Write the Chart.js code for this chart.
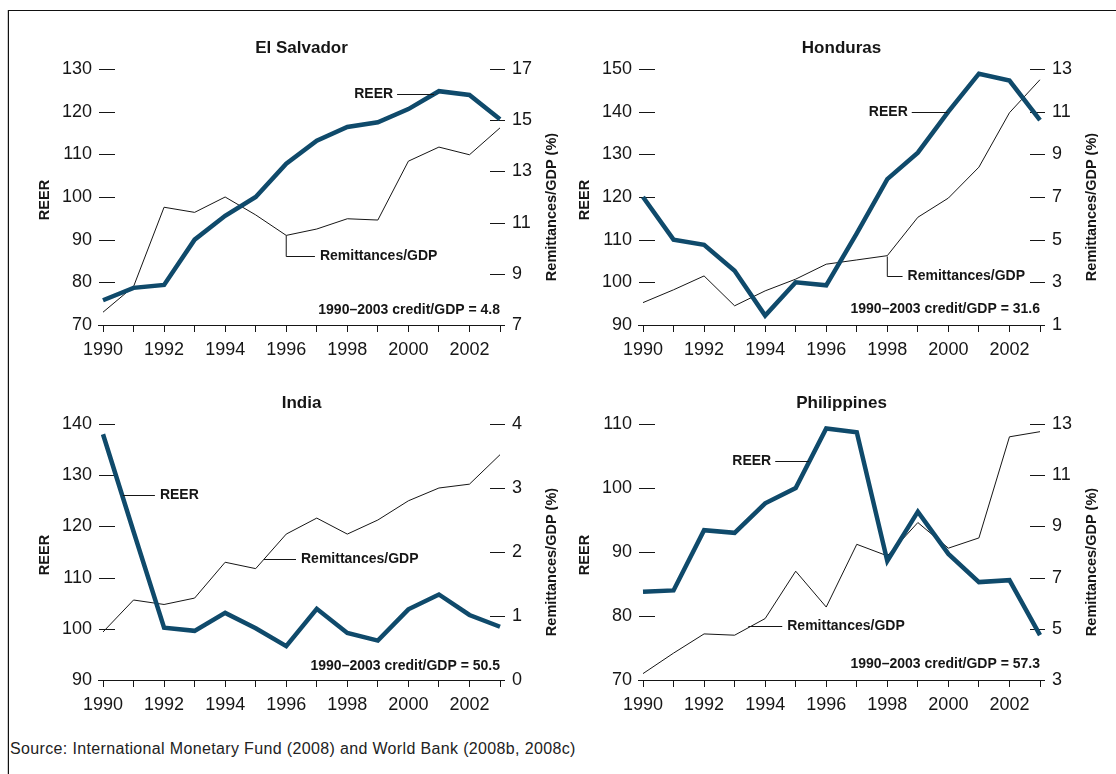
<!DOCTYPE html>
<html>
<head>
<meta charset="utf-8">
<script src="https://cdn.jsdelivr.net/npm/chart.js@4.4.1/dist/chart.umd.min.js"></script>
<style>
  html, body { margin: 0; padding: 0; background: #fff; }
  body { width: 1116px; height: 774px; position: relative; overflow: hidden; }
  .frame { position: absolute; left: 8px; top: 10px; right: 0; bottom: 0; border-top: 1.5px solid #111; border-left: 1.5px solid #111; box-shadow: -1px 0 0 #ccc; }
  canvas { position: absolute; }
  .source { position: absolute; left: 10px; top: 740px; font: 16px "Liberation Sans", Arial, sans-serif; letter-spacing: 0.35px; color: #222; }
</style>
</head>
<body>
<div class="frame"></div>
<canvas id="cElSalvador" width="558" height="355" style="left:0;top:30px"></canvas>
<canvas id="cHonduras" width="558" height="355" style="left:540px;top:30px"></canvas>
<canvas id="cIndia" width="558" height="355" style="left:0;top:385px"></canvas>
<canvas id="cPhilippines" width="558" height="355" style="left:540px;top:385px"></canvas>
<div class="source">Source: International Monetary Fund (2008) and World Bank (2008b, 2008c)</div>

<script>
// values
const years = ['1990', '1991', '1992', '1993', '1994', '1995', '1996', '1997', '1998', '1999', '2000', '2001', '2002', '2003'];

const elSalvadorReer = [75.8, 78.7, 79.4, 90.0, 95.6, 100.0, 107.8, 113.2, 116.4, 117.5, 120.6, 124.8, 123.9, 118.2];
const elSalvadorRemit = [7.5, 8.5, 11.6, 11.4, 12.0, 11.3, 10.5, 10.75, 11.15, 11.1, 13.4, 13.95, 13.65, 14.7];

const hondurasReer = [120.0, 110.0, 108.8, 102.7, 92.2, 100.0, 99.3, 111.5, 124.2, 130.4, 140.0, 148.9, 147.3, 138.0];
const hondurasRemit = [2.05, 2.65, 3.3, 1.9, 2.6, 3.15, 3.85, 4.05, 4.25, 6.05, 6.95, 8.4, 10.95, 12.5];

const indiaReer = [138.0, 119.0, 100.2, 99.6, 103.1, 100.1, 96.6, 103.9, 99.2, 97.7, 103.8, 106.7, 102.7, 100.4];
const indiaRemit = [0.75, 1.25, 1.18, 1.28, 1.84, 1.74, 2.28, 2.53, 2.28, 2.5, 2.8, 3.0, 3.06, 3.52];

const philippinesReer = [83.8, 84.0, 93.4, 93.0, 97.6, 100.0, 109.3, 108.7, 88.6, 96.3, 89.7, 85.3, 85.6, 77.0];
const philippinesRemit = [3.25, 4.05, 4.8, 4.75, 5.4, 7.25, 5.85, 8.3, 7.85, 9.15, 8.15, 8.55, 12.5, 12.7];

const REER_COLOR = '#0f4a6b';
const INK = '#161616';
const FONT = '"Liberation Sans", Arial, sans-serif';

// label leaders in data units: [year, value] on the given axis
const panels = [
    {
        canvas: 'cElSalvador', title: 'El Salvador', reer: elSalvadorReer, remit: elSalvadorRemit,
        y: [70, 130, 10], y1: [7, 17, 2], credit: ['1990–2003 credit/GDP = 4.8', 2003, 73.5],
        notes: [
            { axis: 'y', text: 'REER', at: 'start', path: [[1999.63, 124.1], [2000.84, 124.1]] },
            { axis: 'y1', text: 'Remittances/GDP', at: 'end', path: [[1996, 10.5], [1996, 9.7], [1996.94, 9.7]] },
        ],
    },
    {
        canvas: 'cHonduras', title: 'Honduras', reer: hondurasReer, remit: hondurasRemit,
        y: [90, 150, 10], y1: [1, 13, 2], credit: ['1990–2003 credit/GDP = 31.6', 2003, 93.7],
        notes: [
            { axis: 'y', text: 'REER', at: 'start', path: [[1998.8, 140], [1999.97, 140]] },
            { axis: 'y1', text: 'Remittances/GDP', at: 'end', path: [[1998, 4.25], [1998, 3.29], [1998.5, 3.29]] },
        ],
    },
    {
        canvas: 'cIndia', title: 'India', reer: indiaReer, remit: indiaRemit,
        y: [90, 140, 10], y1: [0, 4, 1], credit: ['1990–2003 credit/GDP = 50.5', 2003, 92.7],
        notes: [
            { axis: 'y', text: 'REER', at: 'end', path: [[1990.65, 126.1], [1991.7, 126.1]] },
            { axis: 'y1', text: 'Remittances/GDP', at: 'end', path: [[1995.27, 1.89], [1996.32, 1.89]] },
        ],
    },
    {
        canvas: 'cPhilippines', title: 'Philippines', reer: philippinesReer, remit: philippinesRemit,
        y: [70, 110, 10], y1: [3, 13, 2], credit: ['1990–2003 credit/GDP = 57.3', 2003, 72.4],
        notes: [
            { axis: 'y', text: 'REER', at: 'start', path: [[1994.33, 104.2], [1995.44, 104.2]] },
            { axis: 'y1', text: 'Remittances/GDP', at: 'end', path: [[1993.45, 5.12], [1994.56, 5.12]] },
        ],
    },
];

function hline(ctx, x0, x1, y) {
    ctx.beginPath();
    ctx.moveTo(x0, y);
    ctx.lineTo(x1, y);
    ctx.stroke();
}

function vtext(ctx, text, x, y) {
    ctx.save();
    ctx.translate(x, y);
    ctx.rotate(-Math.PI / 2);
    ctx.fillText(text, 0, 0);
    ctx.restore();
}

// ticks straddling the plot edges, x axis line, titles and labels
const panelDecor = {
    id: 'panelDecor',
    beforeDatasetsDraw(chart) {
        const { ctx, chartArea: a, scales } = chart;
        ctx.save();
        ctx.strokeStyle = INK;
        ctx.lineWidth = 1;
        scales.y.ticks.forEach(t => {
            const py = Math.round(scales.y.getPixelForValue(t.value)) + 0.5;
            hline(ctx, a.left - 4, a.left + 12, py);
        });
        scales.y1.ticks.forEach(t => {
            const py = Math.round(scales.y1.getPixelForValue(t.value)) + 0.5;
            hline(ctx, a.right - 10, a.right + 5, py);
        });
        hline(ctx, a.left - 5, a.right + 5, Math.round(a.bottom) + 0.5);
        ctx.restore();
    },
    afterDraw(chart, args, opts) {
        const { ctx, chartArea: a, scales } = chart;
        const p = opts.panel;
        const mid = (a.top + a.bottom) / 2;
        ctx.save();
        ctx.fillStyle = INK;
        ctx.strokeStyle = INK;
        ctx.lineWidth = 1;
        ctx.textBaseline = 'middle';

        ctx.font = 'bold 17px ' + FONT;
        ctx.textAlign = 'center';
        ctx.fillText(p.title, (a.left + a.right) / 2, a.top - 21);

        ctx.font = 'bold 14.5px ' + FONT;
        vtext(ctx, 'REER', a.left - 58, mid + 3);
        vtext(ctx, 'Remittances/GDP (%)', a.right + 52, mid + 10);

        ctx.font = 'bold 14px ' + FONT;
        p.notes.forEach(n => {
            const sy = scales[n.axis];
            const pts = n.path.map(([yr, v]) => [scales.x.getPixelForValue(yr - 1990), Math.round(sy.getPixelForValue(v)) + 0.5]);
            ctx.beginPath();
            pts.forEach(([px, py], i) => i ? ctx.lineTo(px, py) : ctx.moveTo(px, py));
            ctx.stroke();
            if (n.at === 'start') {
                ctx.textAlign = 'right';
                ctx.fillText(n.text, pts[0][0] - 4, pts[0][1]);
            } else {
                const last = pts[pts.length - 1];
                ctx.textAlign = 'left';
                ctx.fillText(n.text, last[0] + 5, last[1]);
            }
        });

        const [label, yr, v] = p.credit;
        ctx.textAlign = 'right';
        ctx.fillText(label, scales.x.getPixelForValue(yr - 1990), scales.y.getPixelForValue(v));
        ctx.restore();
    },
};

function renderPanel(p) {
    const ctx = document.getElementById(p.canvas).getContext('2d');
    const tickFont = { family: FONT, size: 18 };
    return new Chart(ctx, {
        type: 'line',
        data: {
            labels: years,
            datasets: [
                { label: 'REER', data: p.reer, yAxisID: 'y', borderColor: REER_COLOR, borderWidth: 4.5, pointRadius: 0, tension: 0, order: 1 },
                { label: 'Remittances/GDP', data: p.remit, yAxisID: 'y1', borderColor: INK, borderWidth: 1, pointRadius: 0, tension: 0, order: 2 },
            ],
        },
        options: {
            responsive: false, animation: false,
            layout: { padding: { top: 39, left: 0, right: 0, bottom: 0 } },
            plugins: { legend: { display: false }, tooltip: { enabled: false }, panelDecor: { panel: p } },
            scales: {
                x: {
                    type: 'category', offset: false,
                    grid: { display: true, drawOnChartArea: false, drawTicks: true, tickLength: 7, color: INK },
                    border: { display: false },
                    ticks: {
                        autoSkip: false, maxRotation: 0, padding: 7, color: INK, font: tickFont,
                        callback: (v, i) => (i % 2 === 0 ? years[i] : ''),
                    },
                    afterFit: s => { s.height = 60; },
                },
                y: {
                    position: 'left', min: p.y[0], max: p.y[1],
                    grid: { display: false, drawTicks: false }, border: { display: false },
                    ticks: { stepSize: p.y[2], padding: 11, color: INK, font: tickFont },
                    afterFit: s => { s.width = 103; },
                },
                y1: {
                    position: 'right', min: p.y1[0], max: p.y1[1],
                    grid: { display: false, drawTicks: false }, border: { display: false },
                    ticks: { stepSize: p.y1[2], padding: 12, color: INK, font: tickFont },
                    afterFit: s => { s.width = 58; },
                },
            },
        },
        plugins: [panelDecor],
    });
}

panels.forEach(renderPanel);
</script>
</body>
</html>
